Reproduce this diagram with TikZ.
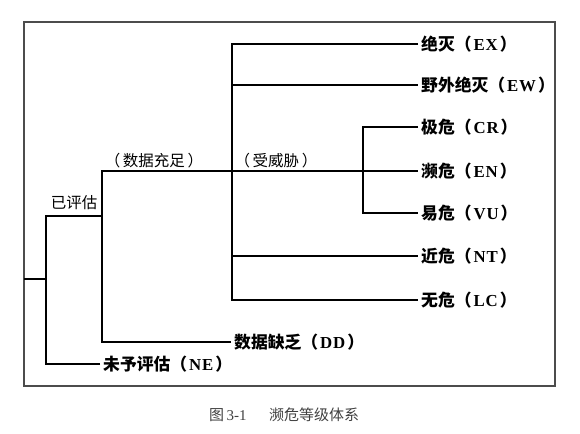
\documentclass[tikz,border=0pt]{standalone}
\usepackage{fontspec}
\setmainfont{Liberation Serif}
\newfontfamily\cjk{Noto Sans CJK SC}
\newfontfamily\lat{Liberation Serif}[LetterSpace=5]
\newcommand\leaflab[2]{{\cjk\bfseries #1（}\kern2pt{\lat\bfseries #2}\kern2pt{\cjk\bfseries ）}}
\begin{document}
\begin{tikzpicture}[x=1pt,y=-1pt,
  br/.style={line width=2.7pt,line join=miter,black},
  leaf/.style={anchor=west,inner xsep=3pt,inner ysep=0pt,font=\fontsize{16.8}{19}\selectfont},
  lbl/.style={anchor=base,inner sep=0pt,font=\fontsize{15.5}{18}\selectfont\cjk}]
\useasboundingbox (0,0) rectangle (580,433);
\draw[line width=1.3pt,black!70] (24,22) rectangle (555,386);
% junction coordinates
\coordinate (r0) at (24,279);
\coordinate (j1) at (46,279);
\coordinate (j1t) at (46,216);
\coordinate (j2m) at (102,216);
\coordinate (j2t) at (102,171);
\coordinate (j3b) at (232,300);
\coordinate (j3w) at (232,85);
\coordinate (j3n) at (232,256);
\coordinate (j4b) at (363,213);
% leaves
\node[leaf] (EX) at (418,44) {\leaflab{绝灭}{EX}};
\node[leaf] (EW) at (418,85) {\leaflab{野外绝灭}{EW}};
\node[leaf] (CR) at (418,127) {\leaflab{极危}{CR}};
\node[leaf] (EN) at (418,171) {\leaflab{濒危}{EN}};
\node[leaf] (VU) at (418,213) {\leaflab{易危}{VU}};
\node[leaf] (NT) at (418,256) {\leaflab{近危}{NT}};
\node[leaf] (LC) at (418,300) {\leaflab{无危}{LC}};
\node[leaf] (DD) at (231,342) {\leaflab{数据缺乏}{DD}};
\node[leaf] (NE) at (100,364) {\leaflab{未予评估}{NE}};
% branch labels
\node[lbl] (ev) at (74,208) {已评估};
\node[lbl] (ad) at (154,166) {（\,数据充足\,）};
\node[lbl] (th) at (276,166) {（\,受威胁\,）};
% connectors
\draw[br] (r0) -- (j1);
\draw[br] (NE.west) -| (j1t) -- (j2m);
\draw[br] (DD.west) -| (j2t) -- (EN.west);
\draw[br] (EX.west) -| (j3b) -- (LC.west);
\draw[br] (j3w) -- (EW.west);
\draw[br] (j3n) -- (NT.west);
\draw[br] (CR.west) -| (j4b) -- (VU.west);
% caption
\node[anchor=west,inner sep=0pt,text=black!75,font=\fontsize{15}{18}\selectfont] (cap) at (209,415) {{\cjk 图}\,3-1\hspace{1.5em}{\cjk 濒危等级体系}};
\end{tikzpicture}
\end{document}
